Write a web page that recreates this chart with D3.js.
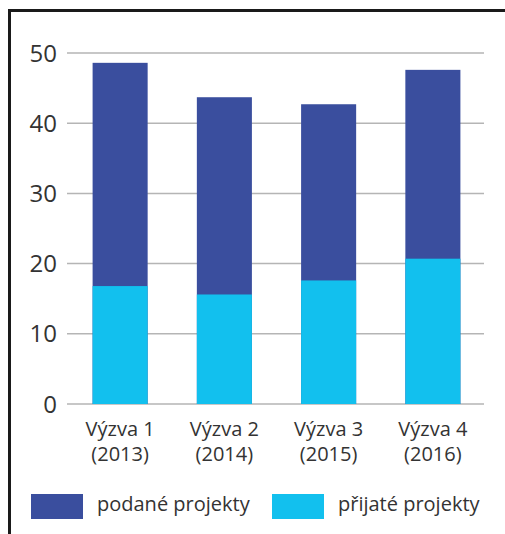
<!DOCTYPE html>
<html>
<head>
<meta charset="utf-8">
<script src="https://cdn.jsdelivr.net/npm/d3@7"></script>
<style>
  body { margin: 0; background: #fff; }
  text { font-family: "Open Sans", sans-serif; fill: #333; }
</style>
</head>
<body>
<svg id="chart"></svg>
<script>
const categories = ["Výzva 1|(2013)", "Výzva 2|(2014)", "Výzva 3|(2015)", "Výzva 4|(2016)"];
const podane = [48.6, 43.7, 42.7, 47.6];
const prijate = [16.8, 15.6, 17.6, 20.7];
const yTicks = [0, 10, 20, 30, 40, 50];
const seriesNames = ["podané projekty", "přijaté projekty"];
const colors = ["#3a4e9e", "#12c0ee"];

const width = 505, height = 534;

const svg = d3.select("#chart")
    .attr("width", width)
    .attr("height", height);

svg.append("rect")
    .attr("width", width)
    .attr("height", height)
    .attr("fill", "#fff");

// frame (only top and left visible)
svg.append("rect")
    .attr("x", 9.5)
    .attr("y", 10.5)
    .attr("width", 600)
    .attr("height", 600)
    .attr("fill", "none")
    .attr("stroke", "#1a1a1a")
    .attr("stroke-width", 3);

const x = d3.scaleBand()
    .domain(categories)
    .range([68, 485])
    .paddingInner(0.472)
    .paddingOuter(0.236);

const y = d3.scaleLinear()
    .domain([0, 50])
    .range([404, 53]);

// gridlines
svg.append("g")
    .selectAll("line")
    .data(yTicks)
    .join("line")
    .attr("x1", 67)
    .attr("x2", 484)
    .attr("y1", d => y(d))
    .attr("y2", d => y(d))
    .attr("stroke", "#b5b5b5")
    .attr("stroke-width", 1.5);

// y labels
svg.append("g")
    .selectAll("text")
    .data(yTicks)
    .join("text")
    .attr("x", 57)
    .attr("y", d => y(d) + 8.5)
    .attr("text-anchor", "end")
    .style("font-size", "24px")
    .text(d => d);

// podané bars (full height)
svg.append("g")
    .selectAll("rect")
    .data(categories)
    .join("rect")
    .attr("x", d => x(d))
    .attr("width", x.bandwidth())
    .attr("y", (d, i) => y(podane[i]))
    .attr("height", (d, i) => y(0) - y(podane[i]))
    .attr("fill", colors[0]);

// přijaté bars overlaid
svg.append("g")
    .selectAll("rect")
    .data(categories)
    .join("rect")
    .attr("x", d => x(d))
    .attr("width", x.bandwidth())
    .attr("y", (d, i) => y(prijate[i]))
    .attr("height", (d, i) => y(0) - y(prijate[i]))
    .attr("fill", colors[1]);

// x labels
const xl = svg.append("g")
    .selectAll("text")
    .data(categories)
    .join("text")
    .attr("text-anchor", "middle")
    .attr("x", d => x(d) + x.bandwidth() / 2)
    .attr("y", 436)
    .style("font-size", "20px");
xl.selectAll("tspan")
    .data(d => d.split("|"))
    .join("tspan")
    .attr("x", function () { return d3.select(this.parentNode).attr("x"); })
    .attr("dy", (d, i) => i === 0 ? 0 : 24.5)
    .text(d => d);

// legend
const legendX = [31, 272];
const lg = svg.append("g")
    .selectAll("g")
    .data(seriesNames)
    .join("g")
    .attr("transform", (d, i) => `translate(${legendX[i]},494)`);
lg.append("rect")
    .attr("width", 52)
    .attr("height", 25)
    .attr("fill", (d, i) => colors[i]);
lg.append("text")
    .attr("x", 66)
    .attr("y", 17)
    .style("font-size", "20px")
    .text(d => d);
</script>
</body>
</html>
